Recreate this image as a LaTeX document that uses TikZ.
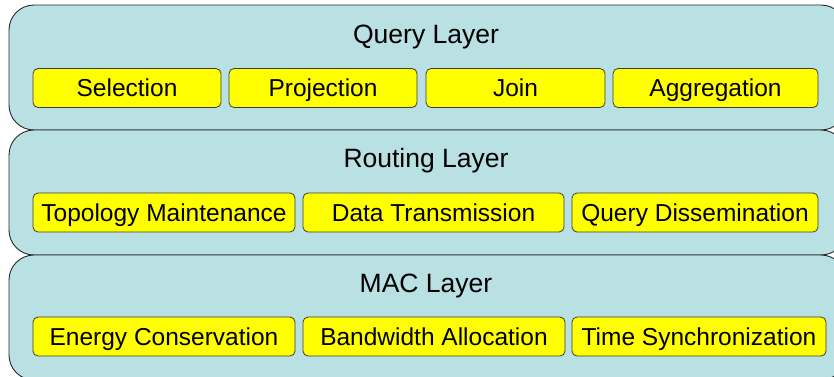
\documentclass[tikz,border=0pt]{standalone}
\usepackage{fontspec}
\setmainfont{Liberation Sans}
\definecolor{layerfill}{RGB}{185,224,227}
\definecolor{layeredge}{RGB}{40,40,40}
\definecolor{boxfill}{RGB}{255,255,0}
\definecolor{boxedge}{RGB}{60,60,60}
\tikzset{
  layer/.style={draw=layeredge, line width=0.9pt, fill=layerfill, rounded corners=25pt,
    minimum width=837pt, minimum height=125pt, inner sep=0pt, anchor=center},
  layertitle/.style={font=\fontsize{26.5}{30}\selectfont, text=black, inner sep=0pt,
    text height=19pt, text depth=0pt, anchor=center},
  opbox/.style={draw=boxedge, line width=0.8pt, fill=boxfill, rounded corners=5pt,
    minimum height=39pt, inner sep=0pt, anchor=center, font=\fontsize{24.5}{28}\selectfont,
    text height=17.5pt, text depth=0pt, text=black}
}
\begin{document}
\begin{tikzpicture}[x=1pt,y=-1pt]
  \useasboundingbox (0,0) rectangle (834,376);
  \fill[white] (0,0) rectangle (834,376);
  \clip (0,0) rectangle (834,376);

  % three stacked layers
  \node[layer] (query) at (427.5,67.5) {};
  \node[layer] (routing) at (427.5,192.5) {};
  \node[layer] (mac) at (427.5,317.5) {};

  % layer titles
  \node[layertitle] (querytitle) at (426,34) {Query Layer};
  \node[layertitle] (routingtitle) at (426,158) {Routing Layer};
  \node[layertitle] (mactitle) at (426,283) {MAC Layer};

  % query operators
  \node[opbox, minimum width=188pt] (selection) at (127,88) {Selection};
  \node[opbox, minimum width=188pt] (projection) at (323,88) {Projection};
  \node[opbox, minimum width=179pt] (join) at (515.5,88) {Join};
  \node[opbox, minimum width=205pt] (aggregation) at (715.5,88) {Aggregation};

  % routing functions
  \node[opbox, minimum width=262pt] (topology) at (164,212.5) {Topology Maintenance};
  \node[opbox, minimum width=261pt] (datatx) at (433.5,212.5) {Data Transmission};
  \node[opbox, minimum width=246pt] (dissem) at (695,212.5) {Query Dissemination};

  % MAC functions
  \node[opbox, minimum width=262pt] (energy) at (164,336.5) {Energy Conservation};
  \node[opbox, minimum width=262pt] (bandwidth) at (434,336.5) {Bandwidth Allocation};
  \node[opbox, minimum width=254pt] (timesync) at (699,336.5) {Time Synchronization};
\end{tikzpicture}
\end{document}
